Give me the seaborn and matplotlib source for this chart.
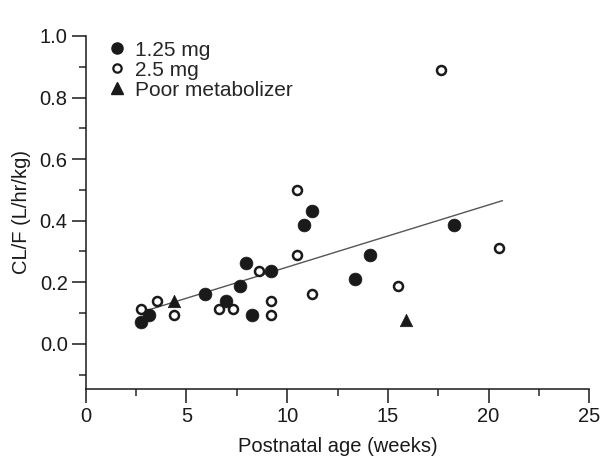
import numpy as np
import pandas as pd
import matplotlib
matplotlib.use("Agg")
import matplotlib.pyplot as plt
from matplotlib.ticker import MultipleLocator
from matplotlib.lines import Line2D
import seaborn as sns

# Data
# 1.25 mg group (filled circles)
age_125 = [2.74, 3.14, 5.90, 6.96, 7.66, 7.97, 8.26, 9.21, 10.86, 11.23, 13.38, 14.10, 18.28]
cl_125 = [0.071, 0.092, 0.163, 0.140, 0.188, 0.262, 0.092, 0.238, 0.387, 0.432, 0.211, 0.287, 0.386]

# 2.5 mg group (open circles)
age_25 = [2.73, 3.56, 4.39, 6.62, 7.32, 8.59, 9.21, 9.21, 10.50, 10.50, 11.23, 15.52, 17.63, 20.52]
cl_25 = [0.114, 0.140, 0.092, 0.114, 0.114, 0.238, 0.139, 0.092, 0.499, 0.287, 0.163, 0.188, 0.889, 0.312]

# Poor metabolizers (triangles)
age_pm = [4.39, 15.88]
cl_pm = [0.140, 0.078]

# Regression line
fit_intercept = 0.047
fit_slope = 0.0202
fit_range = [2.95, 20.69]

legend_labels = ["1.25 mg", "2.5 mg", "Poor metabolizer"]

sns.set_theme(style="ticks")
plt.rcParams["font.family"] = ["Liberation Sans", "DejaVu Sans"]

fig = plt.figure(figsize=(6, 4.67), dpi=100)
ax = fig.add_axes([0.143, 0.167, 0.839, 0.756])

df_125 = pd.DataFrame({"age": age_125, "cl": cl_125})
df_25 = pd.DataFrame({"age": age_25, "cl": cl_25})
df_pm = pd.DataFrame({"age": age_pm, "cl": cl_pm})
fit_x = np.array(fit_range)
df_fit = pd.DataFrame({"age": fit_x, "cl": fit_intercept + fit_slope * fit_x})

sns.lineplot(data=df_fit, x="age", y="cl", color="#555555", linewidth=1.0, ax=ax)
sns.scatterplot(data=df_125, x="age", y="cl", marker="o", s=85, color="#1a1a1a",
                edgecolor="#1a1a1a", linewidth=0.5, ax=ax, zorder=3)
sns.scatterplot(data=df_25, x="age", y="cl", marker="o", s=42, facecolor="white",
                edgecolor="#1a1a1a", linewidth=1.8, ax=ax, zorder=3)
sns.scatterplot(data=df_pm, x="age", y="cl", marker="^", s=80, color="#1a1a1a",
                edgecolor="#1a1a1a", linewidth=0.5, ax=ax, zorder=3)

ax.set_xlim(0, 25)
ax.set_ylim(-0.147, 1.0)
ax.xaxis.set_major_locator(MultipleLocator(5))
ax.xaxis.set_minor_locator(MultipleLocator(2.5))
ax.yaxis.set_minor_locator(MultipleLocator(0.1))
ax.set_yticks(np.arange(0, 1.01, 0.2))
ax.set_yticklabels([f"{v:.1f}" for v in np.arange(0, 1.01, 0.2)])
ax.tick_params(which="major", length=10, width=1.1, labelsize=14.5, colors="#1a1a1a", pad=3)
ax.tick_params(which="minor", length=5, width=1.1)
for side in ["top", "right"]:
    ax.spines[side].set_visible(False)
for side in ["left", "bottom"]:
    ax.spines[side].set_linewidth(1.1)
    ax.spines[side].set_color("#1a1a1a")

ax.set_xlabel("Postnatal age (weeks)", fontsize=14.5, labelpad=8, color="#1a1a1a")
ax.set_ylabel("CL/F (L/hr/kg)", fontsize=14.5, labelpad=6, color="#1a1a1a")

# Legend
handles = [
    Line2D([], [], marker="o", linestyle="", markersize=8, color="#1a1a1a"),
    Line2D([], [], marker="o", linestyle="", markersize=6, markerfacecolor="white",
           markeredgecolor="#1a1a1a", markeredgewidth=1.6),
    Line2D([], [], marker="^", linestyle="", markersize=8, color="#1a1a1a"),
]
ax.legend(handles, legend_labels, loc="upper left",
          bbox_to_anchor=(0.0, 1.04), frameon=False, fontsize=15, handletextpad=0.25,
          labelspacing=0.05, handlelength=1.2)

plt.savefig("out.png", dpi=100)
